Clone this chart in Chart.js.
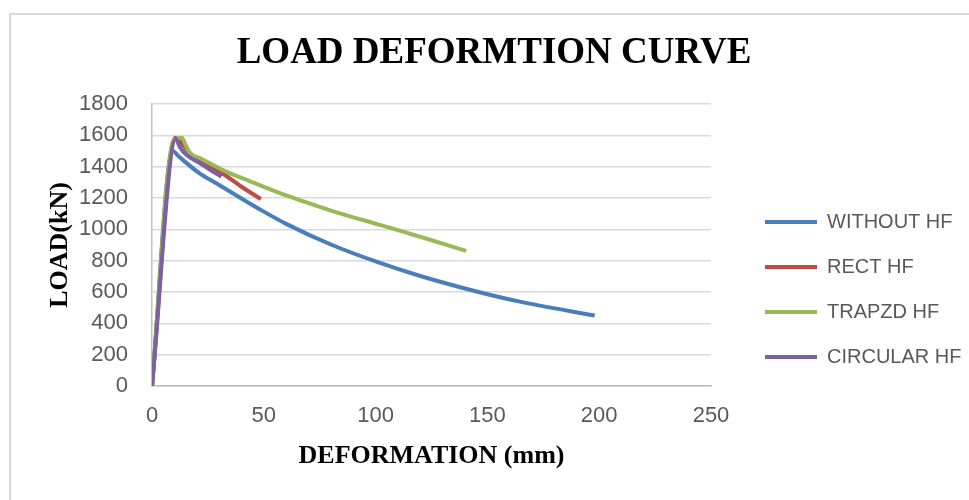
<!DOCTYPE html>
<html><head><meta charset="utf-8">
<script src="https://cdn.jsdelivr.net/npm/chart.js@4.4.1/dist/chart.umd.min.js"></script>
<style>
html,body{margin:0;padding:0;background:#fff;overflow:hidden;}
#wrap{position:relative;width:969px;height:500px;overflow:hidden;}
#frame{position:absolute;left:9px;top:13px;width:1000px;height:600px;border-left:2px solid #d9d9d9;border-top:2px solid #d9d9d9;}
canvas{position:absolute;left:0;top:0;}
</style></head><body>
<div id="wrap"><div id="frame"></div><canvas id="c" width="969" height="500"></canvas></div>
<script>
const chartTitle = 'LOAD DEFORMTION CURVE';
const xTitle = 'DEFORMATION (mm)';
const yTitle = 'LOAD(kN)';
const seriesNames = ['WITHOUT HF', 'RECT HF', 'TRAPZD HF', 'CIRCULAR HF'];
const seriesColors = ['#4A7EBB', '#BE4B48', '#98B954', '#7D60A0'];

const withoutX = [0, 9.2, 12, 21, 30, 40, 50, 60, 80, 100, 120, 146, 164, 198];
const withoutY = [0, 1500, 1465, 1360, 1283, 1197, 1113, 1035, 903, 795, 702, 600, 540, 450];

const rectX = [0, 10.3, 12, 17, 21.4, 31.7, 40, 48.7];
const rectY = [0, 1585, 1570, 1487, 1430, 1355, 1272, 1193];

const trapX = [0, 9.5, 11, 13.3, 15, 17, 21.4, 31.7, 45, 57, 66, 80, 102, 110, 124, 140.5];
const trapY = [0, 1565, 1578, 1585, 1540, 1487, 1455, 1378, 1300, 1232, 1187, 1120, 1028, 995, 935, 862];

const circX = [0, 10.7, 12.5, 15.5, 21.4, 26, 31];
const circY = [0, 1576, 1525, 1474, 1423, 1380, 1336];

const xMin = 0, xMax = 250, xStep = 50;
const yMin = 0, yMax = 1800, yStep = 200;

function pts(xs, ys) { return xs.map((x, i) => ({x: x, y: ys[i]})); }
const allX = [withoutX, rectX, trapX, circX];
const allY = [withoutY, rectY, trapY, circY];
const drawOrder = [4, 3, 2, 1];

const datasets = seriesNames.map((name, i) => ({
  label: name,
  data: pts(allX[i], allY[i]),
  borderColor: seriesColors[i],
  backgroundColor: seriesColors[i],
  borderWidth: 4,
  pointRadius: 0,
  cubicInterpolationMode: 'monotone',
  order: drawOrder[i]
}));

const sans = "'Liberation Sans', Arial, sans-serif";
const serif = "'Liberation Serif', 'Times New Roman', serif";

const shiftPlugin = {
  id: 'shiftBoxes',
  afterLayout(chart) {
    const lg = chart.legend;
    if (lg) {
      const pad = lg.options.labels.padding;
      lg.left = 765 - pad;
      lg.right = 1100;
      const colH = (lg.columnSizes && lg.columnSizes[0]) ? lg.columnSizes[0].height : 0;
      const curY = ((lg.top + pad) + (lg.bottom - colH)) / 2;
      const dy = 212 - curY;
      lg.top += dy; lg.bottom += dy;
    }
    const t = chart.titleBlock;
    if (t) {
      const dx = 494 - (t.left + t.right) / 2;
      t.left += dx; t.right += dx;
    }
  }
};

new Chart(document.getElementById('c'), {
  type: 'line',
  data: { datasets: datasets },
  plugins: [shiftPlugin],
  options: {
    responsive: false,
    animation: false,
    devicePixelRatio: 1,
    layout: { padding: { top: 10, left: 44.4, right: 58, bottom: 28.4 } },
    plugins: {
      title: {
        display: true, text: chartTitle, color: '#000',
        font: { family: serif, size: 37, weight: 'bold' },
        padding: { top: 20.8, bottom: 28.8 }
      },
      legend: {
        position: 'right',
        maxWidth: 200,
        labels: {
          usePointStyle: true, pointStyle: 'line', pointStyleWidth: 52,
          padding: 25, color: '#595959',
          font: { family: sans, size: 20 },
          sort: (a, b) => a.datasetIndex - b.datasetIndex
        }
      },
      tooltip: { enabled: false }
    },
    scales: {
      x: {
        type: 'linear', min: xMin, max: xMax,
        afterFit: s => { s.height = 85.6; },
        grid: { display: false, drawTicks: false },
        border: { display: true, color: '#bfbfbf', width: 1.5 },
        ticks: { stepSize: xStep, color: '#595959', padding: 17, font: { family: sans, size: 22 },
                 callback: v => String(v) },
        title: { display: true, text: xTitle, color: '#000', font: { family: serif, size: 26, weight: 'bold' }, padding: { top: 0, bottom: 0 } }
      },
      y: {
        type: 'linear', min: yMin, max: yMax,
        afterFit: s => { s.width = 107.6; },
        grid: { color: '#d9d9d9', lineWidth: 1.5, drawTicks: false },
        border: { display: true, color: '#bfbfbf', width: 1.5 },
        ticks: { stepSize: yStep, color: '#595959', padding: 24, font: { family: sans, size: 22 },
                 callback: v => String(v) },
        title: { display: true, text: yTitle, color: '#000', font: { family: serif, size: 26, weight: 'bold' }, padding: { top: 0, bottom: 0 } }
      }
    }
  }
});
</script>
</body></html>
